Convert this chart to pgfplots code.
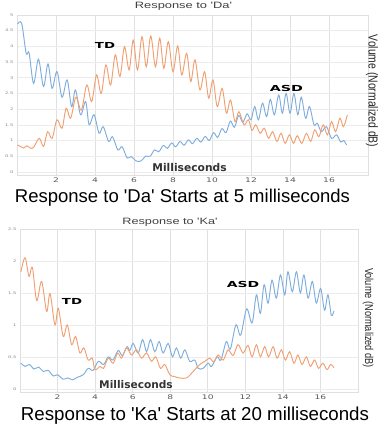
\documentclass[border=0pt]{standalone}
\usepackage{pgfplots}
\pgfplotsset{compat=1.18}
\usepackage{fontspec}
\newfontfamily\lib{Liberation Sans}
\newfontfamily\dvs{DejaVu Sans}
\definecolor{asd}{RGB}{128,174,220}
\definecolor{td}{RGB}{240,160,115}
\definecolor{gridc}{RGB}{224,224,224}
\definecolor{hgridc}{RGB}{236,236,236}
\newcommand\tl[1]{\scalebox{1.45}[1]{#1}}
\pgfplotsset{
  chart/.style={
    scale only axis, xmin=0, xmax=18,
    axis line style={draw=gridc},
    xmajorgrids, ymajorgrids,
    x grid style={draw=gridc, line width=0.6pt},
    y grid style={draw=hgridc, line width=0.5pt},
    major tick length=0pt,
    xtick={0,2,...,18},
    xticklabels={,\tl{2},\tl{4},\tl{6},\tl{8},\tl{10},\tl{12},\tl{14},\tl{16},},
    xticklabel style={font=\dvs\fontsize{6.3}{7}\selectfont, text=black!65, yshift=1pt},
    yticklabel style={font=\dvs\fontsize{3.6}{4}\selectfont, text=black!45},
    every axis plot/.append style={line width=0.95pt, smooth, tension=0.55, no markers},
  }
}
\begin{document}
\begin{tikzpicture}
\path[use as bounding box] (0,0) rectangle (386pt,-427pt);
% ---------------- top chart ----------------
\begin{axis}[chart, at={(17pt,-175pt)}, anchor=south west, width=351pt, height=160pt,
  ymin=-0.1, ymax=5, ytick={0,0.5,...,5},
  yticklabels={\tl{0},\tl{0.5},\tl{1},\tl{1.5},\tl{2},\tl{2.5},\tl{3},\tl{3.5},\tl{4},\tl{4.5},\tl{5}}]
\addplot[asd] coordinates {
(0.03,4.71)(0.24,4.73)(0.47,3.78)(0.62,3.79)(0.85,2.82)(1.10,3.59)(1.36,2.72)(1.59,3.44)
(1.80,2.66)(2.05,3.20)(2.31,2.38)(2.57,2.93)(2.80,2.08)(3.00,2.61)(3.26,1.82)(3.52,2.24)
(3.70,1.50)(3.95,1.82)(4.21,1.23)(4.42,1.44)(4.70,0.97)(4.90,1.12)(5.17,0.70)(5.39,0.80)
(5.65,0.44)(5.85,0.49)(6.08,0.36)(6.29,0.33)(6.45,0.40)(6.60,0.50)(6.83,0.50)(7.05,0.70)
(7.27,0.64)(7.50,0.84)(7.71,0.75)(7.93,0.92)(8.14,0.80)(8.36,0.97)(8.57,0.85)(8.79,1.02)
(9.00,0.90)(9.22,1.07)(9.43,0.95)(9.65,1.13)(9.86,1.00)(10.08,1.25)(10.29,1.10)(10.51,1.38)
(10.72,1.25)(10.94,1.62)(11.15,1.42)(11.37,1.80)(11.58,1.58)(11.80,1.85)(12.00,1.66)
(12.19,2.08)(12.38,1.66)(12.59,2.19)(12.80,1.76)(12.99,2.31)(13.20,1.82)(13.42,2.45)
(13.61,1.87)(13.80,2.50)(14.00,1.87)(14.20,2.50)(14.40,1.82)(14.58,2.38)(14.80,1.71)
(15.00,2.08)(15.23,1.50)(15.40,1.55)(15.61,1.28)(15.87,1.44)(16.13,1.07)(16.39,1.18)
(16.60,0.95)(16.75,1.00)(16.90,0.86)};
\addplot[td] coordinates {
(0.03,0.86)(0.20,0.80)(0.35,0.76)(0.50,0.83)(0.68,0.76)(0.85,0.78)(1.14,1.07)(1.36,0.81)
(1.57,1.28)(1.80,1.07)(2.05,1.66)(2.31,1.39)(2.52,2.03)(2.75,1.71)(3.02,2.38)(3.30,1.97)
(3.58,2.77)(3.83,2.24)(4.08,3.09)(4.32,2.50)(4.56,3.41)(4.80,2.77)(5.04,3.73)(5.28,3.04)
(5.51,3.99)(5.75,3.25)(5.96,4.20)(6.18,3.25)(6.41,4.31)(6.63,3.35)(6.86,4.33)(7.10,3.35)
(7.32,4.26)(7.53,3.30)(7.76,4.15)(8.00,3.19)(8.24,4.01)(8.45,3.09)(8.70,3.78)(8.91,2.88)
(9.13,3.57)(9.38,2.61)(9.62,3.19)(9.83,2.35)(10.05,2.93)(10.27,2.08)(10.52,2.66)(10.74,1.87)
(10.95,2.29)(11.18,1.60)(11.38,1.92)(11.64,1.50)(11.87,1.66)(12.05,1.32)(12.24,1.50)
(12.47,1.23)(12.68,1.39)(12.90,1.07)(13.11,1.28)(13.33,0.97)(13.54,1.23)(13.75,0.91)
(13.97,1.18)(14.18,0.91)(14.37,1.15)(14.61,0.91)(14.84,1.23)(15.06,0.97)(15.27,1.34)
(15.48,1.12)(15.70,1.50)(15.92,1.18)(16.13,1.60)(16.34,1.28)(16.56,1.71)(16.74,1.44)
(16.94,1.82)};
\end{axis}
% ---------------- bottom chart ----------------
\begin{axis}[chart, at={(20pt,-392pt)}, anchor=south west, width=338pt, height=163pt,
  ymin=-0.05, ymax=2.5, ytick={0,0.5,...,2.5},
  yticklabels={\tl{0},\tl{0.5},\tl{1},\tl{1.5},\tl{2},\tl{2.5}}]
\addplot[asd] coordinates {
(0.05,0.40)(0.27,0.35)(0.50,0.38)(0.75,0.31)(1.00,0.34)(1.24,0.27)(1.50,0.29)(1.77,0.20)
(2.00,0.22)(2.30,0.15)(2.55,0.17)(2.80,0.14)(3.05,0.18)(3.37,0.22)(3.63,0.32)(3.90,0.29)
(4.17,0.43)(4.45,0.38)(4.70,0.50)(4.95,0.45)(5.23,0.60)(5.45,0.52)(5.70,0.66)(5.85,0.60)
(6.03,0.71)(6.29,0.56)(6.53,0.77)(6.74,0.58)(6.95,0.77)(7.18,0.58)(7.41,0.74)(7.62,0.56)
(7.89,0.71)(8.12,0.50)(8.33,0.64)(8.56,0.48)(8.78,0.61)(9.04,0.43)(9.31,0.45)(9.49,0.32)
(9.75,0.32)(10.02,0.40)(10.20,0.35)(10.50,0.50)(10.70,0.45)(10.99,0.74)(11.20,0.62)
(11.50,1.00)(11.75,0.84)(12.07,1.25)(12.36,1.03)(12.59,1.47)(12.80,1.18)(13.00,1.63)
(13.21,1.34)(13.42,1.70)(13.65,1.42)(13.87,1.78)(14.10,1.47)(14.27,1.83)(14.50,1.52)
(14.72,1.83)(14.93,1.50)(15.12,1.78)(15.34,1.42)(15.57,1.68)(15.78,1.34)(16.01,1.57)
(16.22,1.23)(16.40,1.47)(16.58,1.15)(16.72,1.22)};
\addplot[td] coordinates {
(0.05,1.83)(0.27,2.05)(0.48,1.76)(0.66,1.90)(0.89,1.38)(1.15,1.68)(1.42,1.21)(1.60,1.49)
(1.86,1.00)(2.04,1.26)(2.30,0.82)(2.52,1.00)(2.75,0.69)(2.96,0.82)(3.19,0.56)(3.40,0.64)
(3.63,0.45)(3.85,0.48)(3.99,0.30)(4.26,0.35)(4.45,0.32)(4.70,0.48)(4.96,0.40)(5.20,0.56)
(5.41,0.48)(5.67,0.64)(5.94,0.53)(6.20,0.61)(6.47,0.48)(6.74,0.56)(7.00,0.43)(7.23,0.50)
(7.48,0.32)(7.71,0.38)(7.98,0.22)(8.24,0.19)(8.51,0.17)(8.87,0.17)(9.22,0.27)(9.57,0.38)
(9.84,0.43)(10.10,0.48)(10.32,0.42)(10.55,0.53)(10.82,0.45)(11.08,0.61)(11.35,0.52)
(11.61,0.69)(11.88,0.56)(12.14,0.68)(12.36,0.50)(12.59,0.69)(12.80,0.50)(13.03,0.66)
(13.24,0.50)(13.48,0.66)(13.69,0.48)(13.92,0.61)(14.13,0.45)(14.36,0.58)(14.59,0.40)
(14.80,0.53)(15.02,0.38)(15.25,0.50)(15.46,0.35)(15.69,0.45)(15.90,0.32)(16.13,0.40)
(16.35,0.30)(16.54,0.38)(16.72,0.33)};
\end{axis}
% ---------------- texts ----------------
\node[text=black!75] at (183.5pt,-6pt) {\scalebox{1.4}[1]{\lib\fontsize{9.2}{10}\selectfont Response to 'Da'}};
\node[text=black!75] at (170pt,-222pt) {\scalebox{1.38}[1]{\lib\fontsize{9.2}{10}\selectfont Response to 'Ka'}};
\node at (105pt,-45pt) {\scalebox{1.6}[1]{\dvs\bfseries\fontsize{8.3}{9}\selectfont TD}};
\node at (286.5pt,-88pt) {\scalebox{1.72}[1]{\dvs\bfseries\fontsize{8.3}{9}\selectfont ASD}};
\node at (72pt,-301pt) {\scalebox{1.6}[1]{\dvs\bfseries\fontsize{8.3}{9}\selectfont TD}};
\node at (243pt,-284pt) {\scalebox{1.68}[1]{\dvs\bfseries\fontsize{8.3}{9}\selectfont ASD}};
\node[text=black!80] at (189.5pt,-168pt) {\dvs\bfseries\fontsize{10.7}{12}\selectfont Milliseconds};
\node[text=black!80] at (136pt,-385pt) {\dvs\bfseries\fontsize{10.6}{12}\selectfont Milliseconds};
\node[rotate=-90, text=black!85] at (372pt,-91pt) {\scalebox{1}[1.25]{\lib\fontsize{10.4}{12}\selectfont Volume (Normalized dB)}};
\node[rotate=-90, text=black!85] at (368pt,-318pt) {\scalebox{1}[1.25]{\lib\fontsize{9.2}{11}\selectfont Volume (Normalized dB)}};
\node at (182.5pt,-198pt) {\lib\fontsize{18.5}{20}\selectfont Response to 'Da' Starts at 5 milliseconds};
\node at (195pt,-416pt) {\lib\fontsize{18.7}{20}\selectfont Response to 'Ka' Starts at 20 milliseconds};
\end{tikzpicture}
\end{document}
